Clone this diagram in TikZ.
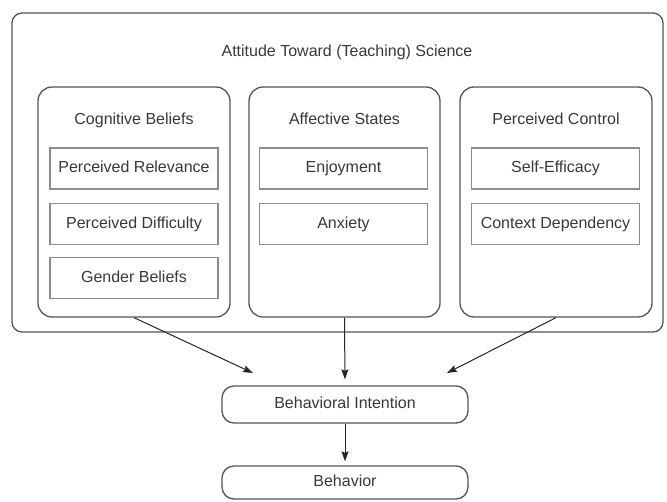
\documentclass[tikz,border=0pt]{standalone}
\usepackage{fontspec}
\setmainfont{Liberation Sans}
\usetikzlibrary{arrows.meta,calc}
\definecolor{framegray}{gray}{0.33}
\definecolor{itemgray}{gray}{0.55}
\definecolor{textgray}{gray}{0.22}

\begin{document}
\begin{tikzpicture}[x=1pt, y=-1pt,
  every node/.style={text=textgray, font=\fontsize{16}{19}\selectfont, text height=11.5pt, text depth=3.5pt},
  outer box/.style={draw=framegray, line width=1.3pt, rounded corners=10pt, minimum width=651pt, minimum height=319pt},
  group box/.style={draw=framegray, line width=1.3pt, rounded corners=14pt, minimum height=230pt},
  item box/.style={draw=itemgray, line width=1.1pt, minimum width=168pt, minimum height=41pt},
  step box/.style={draw=framegray, line width=1.3pt, rounded corners=12pt, minimum width=246pt},
  flow/.style={draw=black!85, line width=1pt, -{Stealth[length=10pt, width=7pt, inset=1.5pt]}}]
\useasboundingbox (0,0) rectangle (667,501);

\node[outer box] (att) at (337.5,172.5) {};
\node (att title) at (347,52) {Attitude Toward (Teaching) Science};

\node[group box, minimum width=192pt] (cog) at (134,202) {};
\node[group box, minimum width=191pt] (aff) at (344.5,202) {};
\node[group box, minimum width=192pt] (ctl) at (556,202) {};

\node (cog head) at (134,120) {Cognitive Beliefs};
\node (aff head) at (344.5,120) {Affective States};
\node (ctl head) at (556,120) {Perceived Control};

\node[item box] (rel) at (134,168.5) {Perceived Relevance};
\node[item box] (dif) at (134,224)   {Perceived Difficulty};
\node[item box] (gen) at (134,278)   {Gender Beliefs};
\node[item box] (enj) at (343.5,168.5) {Enjoyment};
\node[item box] (anx) at (343.5,224)   {Anxiety};
\node[item box] (eff) at (555.5,168.5) {Self-Efficacy};
\node[item box] (ctx) at (555.5,224)   {Context Dependency};

\node[step box, minimum height=37pt] (bi)  at (345,404.5) {Behavioral Intention};
\node[step box, minimum height=33pt] (beh) at (345,482.5) {Behavior};

\coordinate (bi left)  at (253,373);
\coordinate (bi right) at (447,373);

\draw[flow] (cog.south) -- (bi left);
\draw[flow, shorten >=6pt] (aff.south) -- (bi.north);
\draw[flow] (ctl.south) -- (bi right);
\draw[flow, shorten >=4pt] (bi.south) -- (beh.north);
\end{tikzpicture}
\end{document}
